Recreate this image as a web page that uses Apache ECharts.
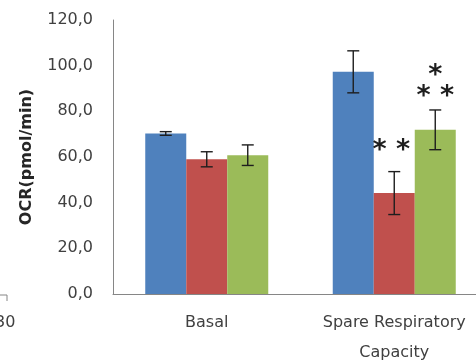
<!DOCTYPE html>
<html>
<head>
<meta charset="utf-8">
<script src="https://cdn.jsdelivr.net/npm/echarts@6/dist/echarts.min.js"></script>
<style>
  html, body { margin: 0; padding: 0; background: #fff; }
  #chart { width: 476px; height: 361px; }
</style>
</head>
<body>
<div id="chart"></div>
<script>
// Oxygen consumption rate per condition
const categories = ['Basal', 'Spare Respiratory\nCapacity'];
const seriesNames = ['Group A', 'Group B', 'Group C'];
const valuesA = [70.3, 97.3];
const valuesB = [59.0, 44.2];
const valuesC = [60.8, 71.9];
const errorsA = [0.8, 9.2];
const errorsB = [3.3, 9.4];
const errorsC = [4.5, 8.7];
// significance marks drawn above the error bars
const marksA = ['', ''];
const marksB = ['', '* *'];
const marksC = ['', '*\n* *'];
const yTickLabels = ['0,0', '20,0', '40,0', '60,0', '80,0', '100,0', '120,0'];

const colors = ['#4F81BD', '#C0504D', '#9BBB59'];
const BAR_W = 41;
// space between an error bar's cap and its significance marks, per series
const MARK_GAP = [4, 10, 2];
const MARK_SHIFT = [0, -3, 0];

const allValues = [valuesA, valuesB, valuesC];
const allErrors = [errorsA, errorsB, errorsC];
const allMarks = [marksA, marksB, marksC];

function errorSeries(si) {
  const data = categories.map((c, i) => [i, allValues[si][i], allErrors[si][i], allMarks[si][i]]);
  return {
    type: 'custom',
    name: seriesNames[si] + ' error',
    data: data,
    z: 5,
    clip: false,
    renderItem: function (params, api) {
      const ci = api.value(0);
      const v = api.value(1);
      const e = api.value(2);
      const mark = data[params.dataIndex][3];
      const off = (si - 1) * BAR_W;
      const top = api.coord([ci, v + e]);
      const bot = api.coord([ci, v - e]);
      const x = top[0] + off;
      const cap = 6;
      const style = { stroke: '#1e1e1e', lineWidth: 1.4 };
      const children = [
        { type: 'line', shape: { x1: x, y1: top[1], x2: x, y2: bot[1] }, style: style },
        { type: 'line', shape: { x1: x - cap, y1: top[1], x2: x + cap, y2: top[1] }, style: style },
        { type: 'line', shape: { x1: x - cap, y1: bot[1], x2: x + cap, y2: bot[1] }, style: style }
      ];
      if (mark) {
        children.push({
          type: 'text',
          style: {
            text: mark,
            x: x + MARK_SHIFT[si],
            y: top[1] - MARK_GAP[si],
            align: 'center',
            verticalAlign: 'bottom',
            fontFamily: 'DejaVu Sans',
            fontWeight: 'bold',
            fontSize: 27,
            lineHeight: 21,
            fill: '#1e1e1e'
          }
        });
      }
      return { type: 'group', children: children };
    }
  };
}

const chart = echarts.init(document.getElementById('chart'), null, { renderer: 'canvas' });
chart.setOption({
  animation: false,
  backgroundColor: '#ffffff',
  grid: { left: 113, top: 20, width: 375, height: 274, containLabel: false, outerBoundsMode: 'none' },
  xAxis: {
    type: 'category',
    data: categories,
    axisLine: { lineStyle: { color: '#868686', width: 1 } },
    axisTick: { show: false },
    axisLabel: {
      margin: 14,
      fontFamily: 'DejaVu Sans',
      fontSize: 16,
      lineHeight: 30,
      color: '#404040'
    }
  },
  yAxis: {
    type: 'value',
    min: 0,
    max: 120,
    interval: 20,
    name: 'OCR(pmol/min)',
    nameLocation: 'middle',
    nameGap: 78,
    nameTextStyle: { fontFamily: 'DejaVu Sans', fontWeight: 'bold', fontSize: 16, color: '#262626' },
    axisLine: { show: true, lineStyle: { color: '#868686', width: 1 } },
    axisTick: { show: false },
    splitLine: { show: false },
    axisLabel: {
      margin: 20,
      fontFamily: 'DejaVu Sans',
      fontSize: 16,
      color: '#404040',
      formatter: function (v) { return yTickLabels[Math.round(v / 20)]; }
    }
  },
  series: [
    { type: 'bar', name: seriesNames[0], data: valuesA, barWidth: BAR_W, barGap: '0%', itemStyle: { color: colors[0] } },
    { type: 'bar', name: seriesNames[1], data: valuesB, barWidth: BAR_W, barGap: '0%', itemStyle: { color: colors[1] } },
    { type: 'bar', name: seriesNames[2], data: valuesC, barWidth: BAR_W, barGap: '0%', itemStyle: { color: colors[2] } },
    errorSeries(0),
    errorSeries(1),
    errorSeries(2)
  ],
  graphic: [
    {
      type: 'polyline',
      shape: { points: [[0, 295], [7, 295], [7, 301]] },
      style: { stroke: '#868686', lineWidth: 1, fill: null }
    },
    {
      type: 'text',
      left: -5,
      top: 315,
      style: { text: '30', fontFamily: 'DejaVu Sans', fontSize: 16, fill: '#404040' }
    }
  ]
});
</script>
</body>
</html>
